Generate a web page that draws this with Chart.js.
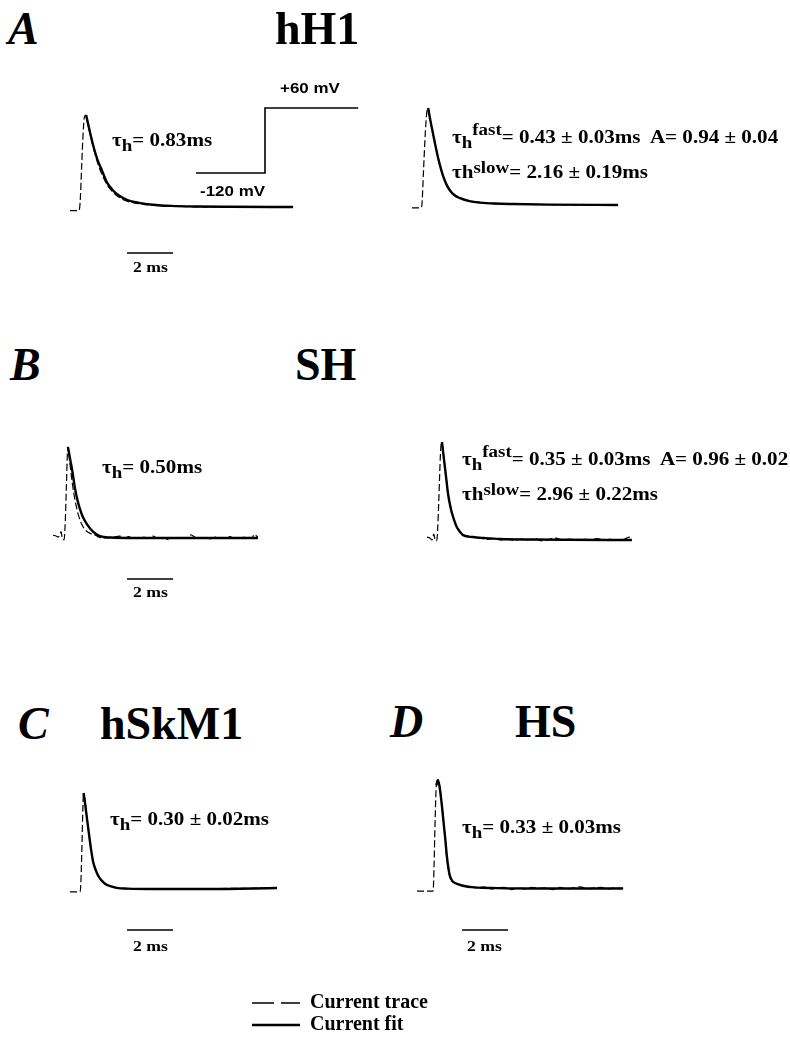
<!DOCTYPE html>
<html>
<head>
<meta charset="utf-8">
<script src="https://cdn.jsdelivr.net/npm/chart.js@4.4.1/dist/chart.umd.min.js"></script>
<style>
html, body { margin: 0; padding: 0; background: #fff; }
#page { position: relative; width: 790px; height: 1039px; overflow: hidden;
        font-family: 'Liberation Serif', 'Times New Roman', serif; color: #000; }
#page canvas { position: absolute; }
.lbl { position: absolute; white-space: nowrap; line-height: 1; font-weight: bold; transform-origin: 0 0; }
.big { font-size: 46px; }
.letter { font-style: italic; }
.note { font-size: 18px; transform: scaleX(1.17); }
.volt { font-family: 'Liberation Sans', Arial, sans-serif; font-size: 15px; transform: scaleX(1.13); }
.bar { font-size: 15px; transform: scaleX(1.18); }
.sub { font-size: 0.9em; position: relative; top: 0.3em; }
.sup { font-size: 0.9em; position: relative; top: -0.5em; }
.sup2 { font-size: 0.9em; position: relative; top: -0.3em; }
</style>
</head>
<body>
<div id="page"></div>
<script>
// Time in ms from start of each sweep, current normalised to peak (1 = peak, 0 = baseline)

// A  hH1, single exponential fit
const aLeftTime  = [0, 0.39, 0.44, 0.50, 0.56, 0.62, 0.68, 0.75, 0.85, 1.00, 1.20, 1.45, 1.70, 2.00, 2.40, 3.00, 3.80, 5.00, 6.50, 9.70];
const aLeftTrace = [-0.04, -0.04, 0.05, 0.40, 0.75, 0.97, 1.0, 0.93, 0.82, 0.66, 0.48, 0.32, 0.21, 0.13, 0.07, 0.035, 0.015, 0.005, 0, 0];
const aLeftFitTime = [0.70, 0.80, 0.90, 1.05, 1.20, 1.40, 1.60, 1.85, 2.10, 2.50, 3.00, 3.60, 4.40, 5.50, 7.00, 9.70];
const aLeftFit     = [1.0, 0.89, 0.78, 0.63, 0.51, 0.39, 0.27, 0.185, 0.13, 0.075, 0.045, 0.025, 0.012, 0.005, 0.002, 0];

// A  hH1, double exponential fit
const aRightTime  = [0, 0.39, 0.43, 0.50, 0.58, 0.65, 0.70, 0.80, 0.95, 1.15, 1.40, 1.70, 2.10, 3.00, 4.50, 6.00, 8.96];
const aRightTrace = [-0.03, -0.03, 0.0, 0.35, 0.75, 0.97, 1.0, 0.87, 0.70, 0.47, 0.27, 0.14, 0.07, 0.025, 0.01, 0.003, 0];
const aRightFitTime = [0.70, 0.80, 0.91, 1.02, 1.13, 1.25, 1.35, 1.50, 1.65, 1.85, 2.09, 2.50, 2.96, 3.60, 4.39, 6.00, 8.96];
const aRightFit     = [1.0, 0.87, 0.74, 0.61, 0.49, 0.38, 0.30, 0.21, 0.15, 0.10, 0.07, 0.04, 0.025, 0.015, 0.01, 0.004, 0];

// A  voltage protocol (mV)
const protoTime = [0, 3.0, 3.0, 7.05];
const protoVolt = [-120, -120, 60, 60];

// B  SH, single exponential fit
const bLeftTime  = [0, 0.15, 0.22, 0.30, 0.35, 0.40, 0.48, 0.52, 0.58, 0.63, 0.65, 0.72, 0.80, 0.90, 1.00, 1.12, 1.25, 1.40, 1.55, 1.70, 1.85,
                    2.0, 2.3, 2.6, 2.9, 3.1, 3.3, 3.6, 3.9, 4.2, 4.35, 4.5, 4.8, 5.05, 5.2, 5.5, 5.8, 6.0, 6.2, 6.5, 6.8, 7.1, 7.4, 7.7, 7.85, 8.1, 8.4, 8.65, 8.75, 8.91];
const bLeftTrace = [0.03, 0.02, 0.01, 0.04, 0.07, 0.0, -0.02, 0.10, 0.55, 0.95, 1.0, 0.85, 0.68, 0.50, 0.36, 0.24, 0.15, 0.09, 0.06, 0.04, 0.03,
                    0.01, 0.0, 0.01, 0.02, 0.0, 0.015, -0.005, 0.01, 0.0, 0.02, 0.0, 0.005, -0.02, 0.0, 0.005, 0.0, 0.035, 0.005, 0.0, -0.01, 0.01, 0.0, 0.015, -0.005, 0.0, 0.01, 0.0, 0.04, 0.005];
const bLeftFitTime = [0.65, 0.75, 0.83, 0.96, 1.08, 1.17, 1.30, 1.48, 1.74, 2.04, 2.50, 3.50, 8.91];
const bLeftFit     = [1.0, 0.86, 0.75, 0.54, 0.40, 0.32, 0.23, 0.15, 0.07, 0.02, 0.005, 0, 0];

// B  SH, double exponential fit
const bRightTime  = [0, 0.12, 0.22, 0.30, 0.35, 0.40, 0.45, 0.52, 0.58, 0.63, 0.70, 0.78, 0.86, 0.91, 1.00, 1.09, 1.20, 1.30, 1.45, 1.57, 1.75, 2.0,
                     2.3, 2.6, 2.9, 3.2, 3.5, 3.8, 4.1, 4.4, 4.7, 5.0, 5.3, 5.6, 5.9, 6.2, 6.5, 6.8, 7.1, 7.4, 7.7, 8.0, 8.3, 8.6, 8.8, 8.91];
const bRightTrace = [0.03, 0.02, 0.0, 0.06, 0.0, -0.01, 0.05, 0.45, 0.85, 1.0, 0.90, 0.74, 0.58, 0.48, 0.36, 0.28, 0.19, 0.13, 0.08, 0.05, 0.04, 0.03,
                     0.02, 0.005, 0.015, 0.0, 0.01, -0.005, 0.01, 0.0, 0.015, -0.01, 0.005, 0.02, 0.0, 0.01, -0.005, 0.01, 0.0, 0.015, 0.0, 0.01, -0.005, 0.01, 0.03, 0.0];
const bRightFitTime = [0.65, 0.70, 0.78, 0.86, 0.91, 1.00, 1.09, 1.20, 1.30, 1.45, 1.57, 2.0, 2.5, 3.17, 4.5, 6.0, 8.91];
const bRightFit     = [1.0, 0.90, 0.74, 0.58, 0.48, 0.36, 0.27, 0.19, 0.13, 0.08, 0.05, 0.03, 0.02, 0.01, 0.005, 0.002, 0];

// C  hSkM1
const cTime  = [0, 0.43, 0.47, 0.52, 0.56, 0.59, 0.65, 0.74, 0.87, 1.00, 1.10, 1.22, 1.37, 1.52, 1.75, 2.04, 3.00, 9.00];
const cTrace = [-0.03, -0.03, 0.05, 0.45, 0.85, 1.0, 0.93, 0.73, 0.49, 0.29, 0.20, 0.14, 0.09, 0.06, 0.03, 0.01, 0, 0.01];
const cFitTime = [0.59, 0.65, 0.74, 0.80, 0.87, 0.93, 1.00, 1.10, 1.22, 1.37, 1.52, 1.75, 2.04, 2.50, 3.50, 6.00, 9.00];
const cFit     = [1.0, 0.90, 0.73, 0.62, 0.49, 0.39, 0.29, 0.21, 0.14, 0.09, 0.055, 0.03, 0.012, 0.004, 0, 0, 0.01];

// D  HS
const dTime  = [0, 0.55, 0.70, 0.74, 0.79, 0.84, 0.91, 0.98, 1.09, 1.22, 1.30, 1.43, 1.55, 1.65, 1.8, 2.0,
                2.3, 2.6, 2.9, 3.2, 3.5, 3.8, 4.1, 4.4, 4.7, 5.0, 5.3, 5.6, 5.9, 6.2, 6.5, 6.8, 7.1, 7.4, 7.7, 8.0, 8.3, 8.6, 8.96];
const dTrace = [-0.02, -0.02, -0.02, 0.20, 0.65, 0.95, 1.0, 0.95, 0.75, 0.48, 0.27, 0.11, 0.07, 0.055, 0.04, 0.03,
                0.02, 0.01, 0.02, 0.0, 0.01, 0.015, -0.005, 0.01, 0.0, 0.015, 0.005, 0.01, -0.005, 0.015, 0.0, 0.01, 0.02, 0.0, 0.01, 0.015, 0.0, 0.01, 0.005];
const dFitTime = [0.84, 0.91, 0.98, 1.09, 1.16, 1.22, 1.30, 1.36, 1.43, 1.55, 1.65, 2.0, 2.5, 3.5, 5.0, 8.96];
const dFit     = [0.95, 1.0, 0.94, 0.75, 0.60, 0.48, 0.30, 0.20, 0.12, 0.07, 0.055, 0.03, 0.015, 0.008, 0.005, 0.005];

// 2 ms calibration bars (start time in ms)
const scaleBarMs = 2;
const aBarStart = 2.48;
const bBarStart = 3.22;
const cBarStart = 2.48;
const dBarStart = 1.96;

const legendNames = ['Current trace', 'Current fit'];

// page layout: canvas boxes and where t=0 / value=0 land on the page
const boxes = {
    aLeft:  { left: 60,  top: 100, width: 240, height: 185, x0: 70,  pxPerMs: 23, y0: 207, pxPerUnit: 92,  barY: -0.5 },
    aProto: { left: 185, top: 80,  width: 185, height: 105, x0: 196, pxPerMs: 23, y0: 129.67, pxPerUnit: 0.3611 },
    aRight: { left: 400, top: 95,  width: 230, height: 125, x0: 412, pxPerMs: 23, y0: 205, pxPerUnit: 97 },
    bLeft:  { left: 40,  top: 435, width: 230, height: 175, x0: 53,  pxPerMs: 23, y0: 538, pxPerUnit: 91,  barY: -0.45 },
    bRight: { left: 415, top: 430, width: 230, height: 125, x0: 427, pxPerMs: 23, y0: 540, pxPerUnit: 98 },
    c:      { left: 60,  top: 780, width: 230, height: 170, x0: 70,  pxPerMs: 23, y0: 889, pxPerUnit: 96,  barY: -0.427 },
    d:      { left: 405, top: 765, width: 235, height: 185, x0: 417, pxPerMs: 23, y0: 889, pxPerUnit: 109, barY: -0.376 }
};

const page = document.getElementById('page');
const serif = "'Liberation Serif', 'Times New Roman', serif";

function pts(xs, ys) {
    return xs.map(function(x, i) { return { x: x, y: ys[i] }; });
}

function fitSet(xs, ys) {
    return { data: pts(xs, ys), borderColor: '#000', borderWidth: 2.4, cubicInterpolationMode: 'monotone', fill: false };
}

function traceSet(xs, ys) {
    return { data: pts(xs, ys), borderColor: '#000', borderWidth: 1.2, borderDash: [7, 3], cubicInterpolationMode: 'monotone', fill: false };
}

function barSet(start, level) {
    return { data: [{ x: start, y: level }, { x: start + scaleBarMs, y: level }], borderColor: '#000', borderWidth: 1.6, fill: false };
}

function addCanvas(box) {
    const canvas = document.createElement('canvas');
    canvas.width = box.width;
    canvas.height = box.height;
    canvas.style.left = box.left + 'px';
    canvas.style.top = box.top + 'px';
    page.appendChild(canvas);
    return canvas;
}

function drawPanel(box, datasets) {
    const canvas = addCanvas(box);
    new Chart(canvas.getContext('2d'), {
        type: 'line',
        data: { datasets: datasets },
        options: {
            responsive: false,
            animation: false,
            events: [],
            layout: { padding: 0 },
            plugins: { legend: { display: false }, tooltip: { enabled: false } },
            elements: { point: { radius: 0 } },
            scales: {
                x: {
                    type: 'linear', display: false,
                    min: (box.left - box.x0) / box.pxPerMs,
                    max: (box.left + box.width - box.x0) / box.pxPerMs
                },
                y: {
                    type: 'linear', display: false,
                    min: (box.y0 - box.top - box.height) / box.pxPerUnit,
                    max: (box.y0 - box.top) / box.pxPerUnit
                }
            }
        }
    });
}

// fit first so it is painted on top of the dashed trace
drawPanel(boxes.aLeft, [fitSet(aLeftFitTime, aLeftFit), traceSet(aLeftTime, aLeftTrace), barSet(aBarStart, boxes.aLeft.barY)]);
drawPanel(boxes.aProto, [{ data: pts(protoTime, protoVolt), borderColor: '#000', borderWidth: 1.6, fill: false }]);
drawPanel(boxes.aRight, [fitSet(aRightFitTime, aRightFit), traceSet(aRightTime, aRightTrace)]);
drawPanel(boxes.bLeft, [fitSet(bLeftFitTime, bLeftFit), traceSet(bLeftTime, bLeftTrace), barSet(bBarStart, boxes.bLeft.barY)]);
drawPanel(boxes.bRight, [fitSet(bRightFitTime, bRightFit), traceSet(bRightTime, bRightTrace)]);
drawPanel(boxes.c, [fitSet(cFitTime, cFit), traceSet(cTime, cTrace), barSet(cBarStart, boxes.c.barY)]);
drawPanel(boxes.d, [fitSet(dFitTime, dFit), traceSet(dTime, dTrace), barSet(dBarStart, boxes.d.barY)]);

// legend: a chart with empty datasets, only its legend is shown
const legendCanvas = addCanvas({ left: 250, top: 991, width: 260, height: 110 });
new Chart(legendCanvas.getContext('2d'), {
    type: 'line',
    data: {
        datasets: [
            { label: legendNames[0], data: [], borderColor: '#000', borderWidth: 1.4, borderDash: [22, 7] },
            { label: legendNames[1], data: [], borderColor: '#000', borderWidth: 2.4 }
        ]
    },
    options: {
        responsive: false,
        animation: false,
        events: [],
        layout: { padding: 0 },
        scales: { x: { display: false }, y: { display: false } },
        plugins: {
            tooltip: { enabled: false },
            legend: {
                display: true,
                position: 'top',
                align: 'start',
                labels: {
                    usePointStyle: true,
                    pointStyleWidth: 48,
                    padding: 2,
                    color: '#000',
                    font: { family: serif, size: 20, weight: 'bold' },
                    generateLabels: function(chart) {
                        return chart.data.datasets.map(function(ds, i) {
                            return {
                                text: ds.label, pointStyle: 'line', strokeStyle: '#000', fillStyle: '#000',
                                lineWidth: ds.borderWidth, lineDash: ds.borderDash || [], hidden: false, datasetIndex: i
                            };
                        });
                    }
                }
            }
        }
    }
});

// text: y is the baseline on the page
const tauH = 'τ<span class="sub">h</span>';
const labels = [
    { html: 'A', x: 8, y: 45, cls: 'big letter' },
    { html: 'hH1', x: 275, y: 45, cls: 'big' },
    { html: 'B', x: 10, y: 381, cls: 'big letter' },
    { html: 'SH', x: 295, y: 381, cls: 'big' },
    { html: 'C', x: 18, y: 740, cls: 'big letter' },
    { html: 'hSkM1', x: 100, y: 740, cls: 'big' },
    { html: 'D', x: 390, y: 738, cls: 'big letter' },
    { html: 'HS', x: 515, y: 738, cls: 'big' },
    { html: tauH + '= 0.83ms', x: 112, y: 146, cls: 'note' },
    { html: tauH + '<span class="sup">fast</span>= 0.43 ± 0.03ms&nbsp; A= 0.94 ± 0.04', x: 452, y: 143, cls: 'note' },
    { html: 'τh<span class="sup2">slow</span>= 2.16 ± 0.19ms', x: 452, y: 178, cls: 'note' },
    { html: tauH + '= 0.50ms', x: 102, y: 473, cls: 'note' },
    { html: tauH + '<span class="sup">fast</span>= 0.35 ± 0.03ms&nbsp; A= 0.96 ± 0.02', x: 462, y: 465, cls: 'note' },
    { html: 'τh<span class="sup2">slow</span>= 2.96 ± 0.22ms', x: 462, y: 500, cls: 'note' },
    { html: tauH + '= 0.30 ± 0.02ms', x: 110, y: 825, cls: 'note' },
    { html: tauH + '= 0.33 ± 0.03ms', x: 462, y: 833, cls: 'note' },
    { html: '+60 mV', x: 280, y: 93, cls: 'volt' },
    { html: '-120 mV', x: 200, y: 196, cls: 'volt' },
    { html: '2 ms', x: 133, y: 273, cls: 'bar' },
    { html: '2 ms', x: 133, y: 598, cls: 'bar' },
    { html: '2 ms', x: 133, y: 952, cls: 'bar' },
    { html: '2 ms', x: 467, y: 952, cls: 'bar' }
];

labels.forEach(function(l) {
    const div = document.createElement('div');
    div.className = 'lbl ' + l.cls;
    div.innerHTML = l.html;
    page.appendChild(div);
    const fs = parseFloat(getComputedStyle(div).fontSize);
    div.style.left = l.x + 'px';
    div.style.top = (l.y - 0.845 * fs) + 'px';
});
</script>
</body>
</html>
